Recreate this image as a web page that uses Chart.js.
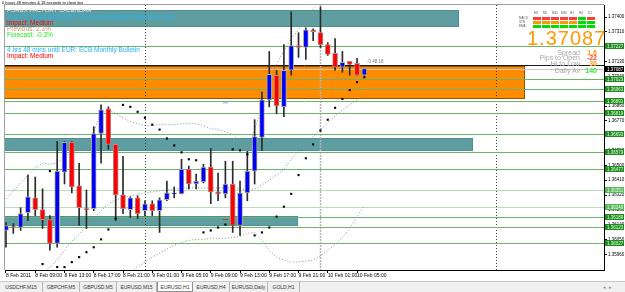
<!DOCTYPE html>
<html>
<head>
<meta charset="utf-8">
<title>EURUSD,H1</title>
<script src="https://cdn.jsdelivr.net/npm/chart.js@4.4.1/dist/chart.umd.min.js"></script>
<style>
html,body{margin:0;padding:0;background:#fff}
body{position:relative;width:625px;height:292px;overflow:hidden;font-family:'Liberation Sans',Arial,sans-serif}
#chart{position:absolute;left:0;top:0}
.t{position:absolute;white-space:nowrap;line-height:1}
.ff{left:7px;font-size:6.5px}
.lbl{right:45px;font-size:7px;color:#a8a8a8}
.val{right:28px;font-size:7px;font-weight:bold}
.box{position:absolute;width:8px;height:3px}
.tiny{font-size:3px;color:#555}
#tabs{position:absolute;left:0;top:281px;width:625px;height:11px;background:#f0f0f0;border-top:1px solid #c8c8c8;box-sizing:border-box}
.tab{position:absolute;top:0;height:10px;font-size:5px;line-height:10px;text-align:center;color:#333;border-right:1px solid #b4b4b4;box-sizing:border-box}
.tab.on{background:#fff;border:1px solid #909090;border-top:none}
</style>
</head>
<body>
<canvas id="chart" width="625" height="281"></canvas>

<div class="t" style="left:2px;top:1px;font-size:4px;color:#000">0 hours 48 minutes &amp; 18 seconds to close bar</div>
<div class="t ff" style="top:7px;font-size:6px;color:#e6e6e6">FOREX FACTORY CALENDAR</div>
<div class="t ff" style="top:13.8px;color:#1eb4ff">3 hrs 33 mins until EUR: French Industrial Production m/m</div>
<div class="t ff" style="top:19.8px;color:#ff0000">Impact: Medium</div>
<div class="t ff" style="top:25.8px;color:#d2905a">Previous: 2.3%</div>
<div class="t ff" style="top:31.8px;color:#22ee22">Forecast: -0.3%</div>
<div class="t ff" style="top:46.8px;color:#1eb4ff">4 hrs 48 mins until EUR: ECB Monthly Bulletin</div>
<div class="t ff" style="top:52.8px;color:#ff0000">Impact: Medium</div>

<div id="signals"></div>
<div class="t" style="left:527px;top:28px;font-size:20px;letter-spacing:1px;color:#ff9900">1.37087</div>
<div class="t lbl" style="top:48.6px">Spread</div>
<div class="t val" style="top:48.6px;color:#ff9900">1.6</div>
<div class="t lbl" style="top:54.4px">Pips to Open</div>
<div class="t val" style="top:54.4px;color:#ff3c3c">-22</div>
<div class="t lbl" style="top:60.4px">Hi to Low</div>
<div class="t val" style="top:60.4px;color:#ff9900">30</div>
<div class="t lbl" style="top:67.2px">Daily Av</div>
<div class="t val" style="top:67.2px;color:#33ee33">140</div>
<div class="t" style="left:367px;top:60px;font-size:4.5px;color:#777">-0 48 18</div>

<div id="tabs">
  <div class="tab" style="left:0;width:43px">USDCHF,M15</div>
  <div class="tab" style="left:43px;width:37px">GBPCHF,M5</div>
  <div class="tab" style="left:80px;width:37px">GBPUSD,M5</div>
  <div class="tab" style="left:117px;width:40px">EURUSD,M15</div>
  <div class="tab on" style="left:157px;width:36px">EURUSD,H1</div>
  <div class="tab" style="left:193px;width:37px">EURUSD,H4</div>
  <div class="tab" style="left:230px;width:38px">EURUSD,Daily</div>
  <div class="tab" style="left:268px;width:32px">GOLD,H1</div>
  <div class="t" style="left:603px;top:3px;font-size:5px;color:#888">&#9666;&nbsp;&nbsp;&#9656;</div>
</div>

<script>
// EURUSD H1, 8 Feb 2011 05:00 onwards
var firstHour = 5;
var open = [1.36105, 1.36129, 1.36123, 1.36213, 1.36303, 1.36231, 1.36171, 1.36027, 1.36459, 1.36639,
            1.36375, 1.36237, 1.36237, 1.36693, 1.36843, 1.36627, 1.36321, 1.36231, 1.36303, 1.36225,
            1.36267, 1.36225, 1.36291, 1.36327, 1.36327, 1.36477, 1.36387, 1.36399, 1.36489, 1.36339,
            1.36327, 1.36387, 1.36135, 1.36333, 1.36465, 1.36669, 1.36897, 1.37047, 1.36855, 1.37077,
            1.37227, 1.37215, 1.37323, 1.37305, 1.37233, 1.37179, 1.37095, 1.37131, 1.37119, 1.37047];
var high = [1.36153, 1.36147, 1.36243, 1.36441, 1.36429, 1.36357, 1.36195, 1.36645, 1.36645, 1.36645,
            1.36513, 1.36351, 1.36735, 1.36867, 1.36855, 1.36627, 1.36555, 1.36309, 1.36315, 1.36285,
            1.36285, 1.36303, 1.36405, 1.36369, 1.36537, 1.36495, 1.36447, 1.36507, 1.36603, 1.36453,
            1.36525, 1.36525, 1.36405, 1.36585, 1.36777, 1.36945, 1.37191, 1.37077, 1.37233, 1.37431,
            1.37305, 1.37335, 1.37329, 1.37461, 1.37245, 1.37269, 1.37191, 1.37131, 1.37149, 1.37087];
var low = [1.36003, 1.36087, 1.36105, 1.36165, 1.36195, 1.36117, 1.35985, 1.36003, 1.36387, 1.36333,
           1.36135, 1.36117, 1.36225, 1.36513, 1.36597, 1.36165, 1.36207, 1.36183, 1.36177, 1.36195,
           1.36195, 1.36093, 1.36285, 1.36303, 1.36327, 1.36357, 1.36357, 1.36393, 1.36267, 1.36285,
           1.36303, 1.36093, 1.36075, 1.36285, 1.36387, 1.36591, 1.36855, 1.36813, 1.36795, 1.37047,
           1.37155, 1.37143, 1.37257, 1.37215, 1.37167, 1.37077, 1.37065, 1.37047, 1.37047, 1.37047];
var close = [1.36135, 1.36123, 1.36207, 1.36309, 1.36231, 1.36171, 1.36027, 1.36465, 1.36639, 1.36369,
             1.36243, 1.36231, 1.36693, 1.36837, 1.36627, 1.36321, 1.36237, 1.36303, 1.36207, 1.36267,
             1.36225, 1.36291, 1.36333, 1.36333, 1.36477, 1.36387, 1.36405, 1.36489, 1.36339, 1.36327,
             1.36387, 1.36135, 1.36333, 1.36465, 1.36675, 1.36897, 1.37053, 1.36861, 1.37077, 1.37227,
             1.37215, 1.37323, 1.37311, 1.37233, 1.37173, 1.37095, 1.37125, 1.37113, 1.37047, 1.37087];

// bollinger bands
var bbUpper = [1.36297, 1.36345, 1.36393, 1.36441, 1.36483, 1.36513, 1.36507, 1.36513, 1.36549, 1.36585,
               1.36591, 1.36597, 1.36705, 1.36813, 1.36837, 1.36813, 1.36789, 1.36765, 1.36753, 1.36741,
               1.36741, 1.36747, 1.36747, 1.36747, 1.36753, 1.36753, 1.36753, 1.36741, 1.36723, 1.36717,
               1.36705, 1.36687, 1.36645, 1.36585, 1.36717, 1.36855, 1.37005, 1.37113, 1.37197, 1.37269,
               1.37323, 1.37389, 1.37449, 1.37503, 1.37545, 1.37569, 1.37587, 1.37599, 1.37611, 1.37617];
var bbMiddle = [null, null, null, null, null, 1.35835, 1.35883, 1.35925, 1.35985, 1.36039,
                1.36081, 1.36129, 1.36177, 1.36225, 1.36267, 1.36291, 1.36303, 1.36315, 1.36321, 1.36333,
                1.36339, 1.36345, 1.36351, 1.36357, 1.36357, 1.36363, 1.36363, 1.36363, 1.36363, 1.36363,
                1.36363, 1.36363, 1.36357, 1.36351, 1.36357, 1.36381, 1.36411, 1.36441, 1.36477, 1.36537,
                1.36585, 1.36627, 1.36675, 1.36717, 1.36759, 1.36801, 1.36837, 1.36867, 1.36897, 1.36933];
var bbLower = [null, null, null, null, null, null, null, null, null, null,
               null, null, 1.35625, 1.35685, 1.35733, 1.35775, 1.35817, 1.35853, 1.35883, 1.35913,
               1.35943, 1.35967, 1.35991, 1.36015, 1.36033, 1.36045, 1.36051, 1.36051, 1.36057, 1.36057,
               1.36057, 1.36063, 1.36069, 1.36087, 1.36093, 1.36045, 1.35985, 1.35943, 1.35925, 1.35913,
               1.35913, 1.35919, 1.35925, 1.35949, 1.35985, 1.36021, 1.36063, 1.36117, 1.36189, 1.36255];
// parabolic SAR
var sar = [null, null, null, null, null, 1.35901, 1.36465, 1.35883, 1.35883, 1.35913,
           1.35943, 1.35973, 1.36003, 1.36051, 1.36111, 1.36177, 1.36867, 1.36855, 1.36825, 1.36789,
           1.36747, 1.36717, 1.36663, 1.36621, 1.36579, 1.36537, 1.36531, 1.36093, 1.36105, 1.36123,
           1.36141, 1.36597, 1.36591, 1.36567, 1.36075, 1.36093, 1.36123, 1.36189, 1.36249, 1.36327,
           1.36441, 1.36543, 1.36627, 1.36711, 1.36777, 1.36849, 1.36903, 1.36957, 1.37005, 1.37035];

var xTickIdx = [0, 4, 8, 12, 16, 20, 24, 28, 32, 36, 40, 44, 48];
var xTickLabels = ['8 Feb 2011', '8 Feb 09:00', '8 Feb 13:00', '8 Feb 17:00', '8 Feb 21:00',
                   '9 Feb 01:00', '9 Feb 05:00', '9 Feb 09:00', '9 Feb 13:00', '9 Feb 17:00',
                   '9 Feb 21:00', '10 Feb 01:00', '10 Feb 05:00'];
var yTicks = [1.37400, 1.37310, 1.37220, 1.37130, 1.37040, 1.36950, 1.36860, 1.36770, 1.36680,
              1.36590, 1.36500, 1.36410, 1.36320, 1.36230, 1.36140, 1.36050, 1.35960];

// drawn objects
var zoneHigh = [1.37443, 1.37101, 1.36669, 1.36195];
var zoneLow = [1.37341, 1.36903, 1.36585, 1.36135];
var zoneEnd = [61.9, 71.0, 63.9, 39.9];
var levels = [1.37227, 1.37023, 1.36963, 1.36891, 1.36819, 1.36693, 1.36579, 1.36477,
              1.36351, 1.36249, 1.36189, 1.36123, 1.36027];
var faintLevels = [1.36351, 1.36249];
var darkLine = 1.37107;
var arrowUp = [30, 1.36879];
var arrowDn = [30, 1.36171];

// signal panel
var sigTimeframes = ['M1', 'M5', 'M15', 'M30', 'H1', 'H4', 'D1'];
var sigNames = ['MACD', 'STR', 'EMA'];
var sigRows = [['r', 'r', 'r', 'r', 'r', 'g', 'r'],
               ['o', 'o', 'o', 'o', 'o', 'g', 'g'],
               ['g', 'g', 'g', 'g', 'g', 'g', 'g']];

var bid = close[close.length - 1];
var idx = open.map(function (v, i) { return i; });
var separators = [];
for (var i = 0; i < 82; i++) if ((firstHour + i) % 24 === 0) separators.push(i);

// signal boxes
(function () {
  var host = document.getElementById('signals');
  var col = { r: '#ff3b3b', o: '#ff9900', g: '#00dd00' };
  var html = '';
  sigTimeframes.forEach(function (tf, c) {
    html += '<div class="t tiny" style="left:' + (534 + c * 9) + 'px;top:11.5px">' + tf + '</div>';
  });
  sigRows.forEach(function (row, r) {
    html += '<div class="t tiny" style="left:519px;top:' + (16.6 + r * 4) + 'px">' + sigNames[r] + '</div>';
    row.forEach(function (s, c) {
      html += '<div class="box" style="left:' + (533 + c * 9) + 'px;top:' + (16.7 + r * 4) + 'px;background:' + col[s] + '"></div>';
    });
  });
  host.innerHTML = html;
})();

var zoneFill = ['#5f9ea0', '#ff8c00', '#5f9ea0', '#5f9ea0'];
var zoneEdge = ['#4f8f91', '#9a5200', '#4f8f91', '#4f8f91'];

var overlay = {
  id: 'overlay',
  beforeDatasetsDraw: function (chart) {
    var ctx = chart.ctx, a = chart.chartArea, x = chart.scales.x, y = chart.scales.y;
    ctx.save();
    ctx.beginPath();
    ctx.rect(a.left, a.top, a.right - a.left, a.bottom - a.top);
    ctx.clip();
    zoneHigh.forEach(function (hi, k) {
      var top = Math.round(y.getPixelForValue(hi));
      var bot = Math.round(y.getPixelForValue(zoneLow[k]));
      var right = Math.round(x.getPixelForValue(zoneEnd[k]));
      ctx.fillStyle = zoneFill[k];
      ctx.fillRect(a.left, top, right - a.left, bot - top);
      ctx.strokeStyle = zoneEdge[k];
      ctx.lineWidth = 1;
      ctx.strokeRect(a.left - 1, top + 0.5, right - a.left + 0.5, bot - top - 1);
    });
    var today = separators.filter(function (s) { return s <= idx.length; }).pop();
    separators.forEach(function (s) {
      var px = Math.round(x.getPixelForValue(s)) + 0.5;
      ctx.strokeStyle = s === today ? '#b4b4b4' : '#404040';
      ctx.lineWidth = s === today ? 1.5 : 1;
      ctx.setLineDash(s === today ? [2, 1] : [1, 2]);
      ctx.beginPath(); ctx.moveTo(px, a.top); ctx.lineTo(px, a.bottom); ctx.stroke();
    });
    ctx.setLineDash([]);
    ctx.lineWidth = 1;
    levels.forEach(function (v) {
      var py = Math.round(y.getPixelForValue(v)) + 0.5;
      ctx.strokeStyle = faintLevels.indexOf(v) >= 0 ? '#bcdcbc' : '#6cb46c';
      ctx.beginPath(); ctx.moveTo(a.left, py); ctx.lineTo(a.right, py); ctx.stroke();
    });
    var pd = Math.round(y.getPixelForValue(darkLine)) + 0.5;
    ctx.strokeStyle = '#1a1a1a';
    ctx.beginPath(); ctx.moveTo(a.left, pd); ctx.lineTo(a.right, pd); ctx.stroke();
    var pb = Math.round(y.getPixelForValue(bid)) + 0.5;
    ctx.strokeStyle = '#c8c8c8';
    ctx.beginPath(); ctx.moveTo(a.left, pb); ctx.lineTo(a.right, pb); ctx.stroke();
    ctx.restore();
  },
  afterDraw: function (chart) {
    var ctx = chart.ctx, a = chart.chartArea, y = chart.scales.y;
    ctx.save();
    // window frame
    ctx.strokeStyle = '#a0a0a0';
    ctx.beginPath();
    ctx.moveTo(a.left - 0.5, a.bottom); ctx.lineTo(a.left - 0.5, a.top - 0.5); ctx.lineTo(a.right, a.top - 0.5);
    ctx.stroke();
    ctx.font = '4.5px "Liberation Sans", Arial, sans-serif';
    ctx.textBaseline = 'middle';
    levels.forEach(function (v) {
      var py = Math.round(y.getPixelForValue(v));
      ctx.fillStyle = faintLevels.indexOf(v) >= 0 ? '#57b657' : '#1f8a1f';
      ctx.fillRect(a.right + 1, py - 3, 19, 6);
      ctx.fillStyle = '#eaffea';
      ctx.fillText(v.toFixed(5), a.right + 3, py + 0.3);
    });
    var pb = Math.round(y.getPixelForValue(bid));
    ctx.fillStyle = '#000';
    ctx.fillRect(a.right + 1, pb - 3, 19, 6);
    ctx.fillStyle = '#fff';
    ctx.fillText(bid.toFixed(5), a.right + 3, pb + 0.3);
    ctx.restore();
  }
};

var ctx = document.getElementById('chart').getContext('2d');
new Chart(ctx, {
  type: 'bar',
  data: {
    datasets: [{
      type: 'scatter',
      label: 'SAR',
      data: idx.filter(function (i) { return sar[i] !== null; }).map(function (i) { return { x: i, y: sar[i] }; }),
      pointStyle: 'rect',
      pointRadius: 1.5,
      pointBackgroundColor: '#000',
      pointBorderWidth: 0,
      order: 0
    }, {
      type: 'scatter',
      label: 'arrows',
      data: [{ x: arrowUp[0], y: arrowUp[1] }, { x: arrowDn[0], y: arrowDn[1] }],
      pointStyle: 'line',
      pointRadius: 2.5,
      pointBorderColor: ['#9999ff', '#cc3333'],
      pointBorderWidth: 1,
      order: 0
    }, {
      label: 'body',
      data: idx.map(function (i) { return { x: i, y: [open[i], close[i]] }; }),
      backgroundColor: idx.map(function (i) { return close[i] >= open[i] ? '#0000ff' : '#ff0000'; }),
      borderColor: idx.map(function (i) { return close[i] >= open[i] ? '#b4b48c' : '#b48c8c'; }),
      borderWidth: 1,
      borderSkipped: false,
      grouped: false,
      barThickness: 5,
      maxBarThickness: 5,
      minBarLength: 1,
      order: 1
    }, {
      label: 'wick',
      data: idx.map(function (i) { return { x: i, y: [low[i], high[i]] }; }),
      backgroundColor: '#2a2a2a',
      grouped: false,
      barThickness: 1,
      maxBarThickness: 1,
      order: 2
    }, {
      type: 'line', label: 'upper',
      data: idx.map(function (i) { return { x: i, y: bbUpper[i] }; }),
      borderColor: '#8a8a8a', borderWidth: 1, borderDash: [1, 2], pointRadius: 0, order: 3
    }, {
      type: 'line', label: 'middle',
      data: idx.map(function (i) { return { x: i, y: bbMiddle[i] }; }),
      borderColor: '#8a8a8a', borderWidth: 1, borderDash: [1, 2], pointRadius: 0, order: 3
    }, {
      type: 'line', label: 'lower',
      data: idx.map(function (i) { return { x: i, y: bbLower[i] }; }),
      borderColor: '#8a8a8a', borderWidth: 1, borderDash: [1, 2], pointRadius: 0, order: 3
    }]
  },
  options: {
    responsive: false,
    animation: false,
    layout: { padding: { left: 2, top: 2, right: 0, bottom: 0 } },
    plugins: { legend: { display: false }, tooltip: { enabled: false } },
    scales: {
      x: {
        type: 'linear',
        min: -0.136,
        max: 81.77,
        offset: false,
        grid: { display: true, drawOnChartArea: false, tickLength: 3, color: '#000', offset: false },
        border: { display: true, color: '#000' },
        afterBuildTicks: function (scale) { scale.ticks = xTickIdx.map(function (v) { return { value: v }; }); },
        afterFit: function (scale) { scale.height = 11; },
        ticks: {
          autoSkip: false, maxRotation: 0, minRotation: 0, align: 'start', padding: 0,
          color: '#000', font: { size: 5 },
          callback: function (v, i) { return xTickLabels[i]; }
        }
      },
      y: {
        position: 'right',
        min: 1.35865,
        max: 1.37473,
        grid: { display: true, drawOnChartArea: false, tickLength: 3, color: '#000' },
        border: { display: true, color: '#000' },
        afterBuildTicks: function (scale) { scale.ticks = yTicks.map(function (v) { return { value: v }; }); },
        afterFit: function (scale) { scale.width = 21; },
        ticks: {
          autoSkip: false, padding: 1, color: '#000', font: { size: 4.5 },
          callback: function (v) { return v.toFixed(5); }
        }
      }
    }
  },
  plugins: [overlay]
});
</script>
</body>
</html>
